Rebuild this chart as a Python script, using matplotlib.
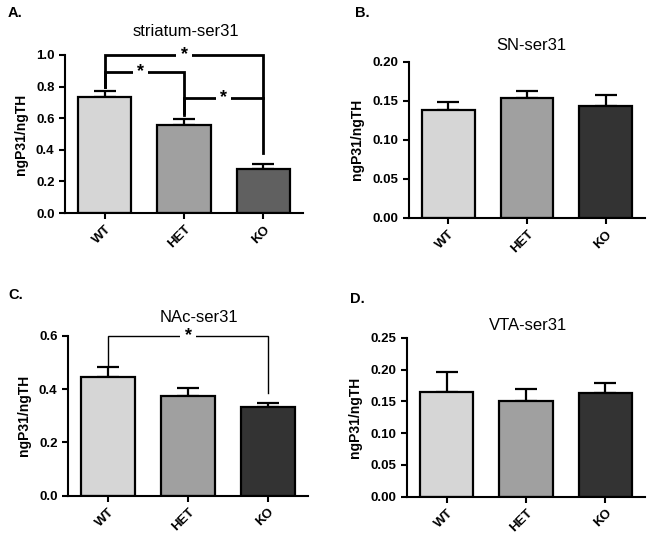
import numpy as np
import matplotlib
matplotlib.use('Agg')
import matplotlib.pyplot as plt
from matplotlib.ticker import FormatStrFormatter

plt.rcParams['font.family'] = ['Liberation Sans', 'DejaVu Sans']

groups = ['WT', 'HET', 'KO']

striatum_mean = [0.734, 0.557, 0.278]
striatum_err = [0.036, 0.040, 0.032]
sn_mean = [0.138, 0.153, 0.143]
sn_err = [0.010, 0.010, 0.014]
nac_mean = [0.445, 0.376, 0.334]
nac_err = [0.037, 0.027, 0.013]
vta_mean = [0.165, 0.150, 0.1635]
vta_err = [0.031, 0.020, 0.0155]

light_colors = ['#d6d6d6', '#a0a0a0', '#606060']
dark_colors = ['#d6d6d6', '#a0a0a0', '#333333']

fig = plt.figure(figsize=(6.54, 5.36), dpi=100)

# axes positions (fig fractions)
axA = fig.add_axes([0.0994, 0.6026, 0.364, 0.2948])
axB = fig.add_axes([0.6254, 0.5933, 0.361, 0.2916])
axC = fig.add_axes([0.104, 0.0752, 0.367, 0.298])
axD = fig.add_axes([0.6223, 0.0733, 0.364, 0.2966])


def bar_panel(ax, means, errs, colors, ymax, yticks, fmt):
    x = np.arange(len(groups))
    ax.bar(x, means, width=0.67, color=colors, edgecolor='black', linewidth=1.6, zorder=2)
    ax.errorbar(x, means, yerr=[np.zeros(len(errs)), errs], fmt='none',
                ecolor='black', elinewidth=1.6, capsize=8, capthick=1.6, zorder=1)
    ax.set_xlim(-0.5, 2.5)
    ax.set_ylim(0, ymax)
    ax.set_yticks(yticks)
    ax.yaxis.set_major_formatter(FormatStrFormatter(fmt))
    ax.set_xticks(x)
    ax.set_xticklabels(groups, rotation=45, ha='right', rotation_mode='anchor',
                       fontweight='bold', fontsize=9.5)
    for lab in ax.get_yticklabels():
        lab.set_fontweight('bold')
        lab.set_fontsize(9.5)
    ax.spines['top'].set_visible(False)
    ax.spines['right'].set_visible(False)
    ax.spines['left'].set_linewidth(1.5)
    ax.spines['bottom'].set_linewidth(1.5)
    ax.tick_params(width=1.5, length=4)
    ax.set_ylabel('ngP31/ngTH', fontweight='bold', fontsize=10, labelpad=6)


def sig(ax, x1, x2, y, y1, y2, xs, lw):
    ax.plot([x1, x1, x2, x2], [y1, y, y, y2], color='black', lw=lw,
            clip_on=False, solid_joinstyle='miter')
    ax.text(xs, y, '*', ha='center', va='center', fontsize=13, fontweight='bold',
            bbox=dict(facecolor='white', edgecolor='none', pad=3), clip_on=False, zorder=5)


bar_panel(axA, striatum_mean, striatum_err, light_colors,
          1.0, [0, 0.2, 0.4, 0.6, 0.8, 1.0], '%.1f')
sig(axA, 0, 2, 1.0, 0.80, 0.378, 1.0, 2.0)
sig(axA, 0, 1, 0.894, 0.80, 0.63, 0.45, 2.0)
sig(axA, 1, 2, 0.73, 0.62, 0.73, 1.5, 2.0)

bar_panel(axB, sn_mean, sn_err, dark_colors,
          0.20, [0, 0.05, 0.10, 0.15, 0.20], '%.2f')

bar_panel(axC, nac_mean, nac_err, dark_colors,
          0.6, [0, 0.2, 0.4, 0.6], '%.1f')
sig(axC, 0, 2, 0.6, 0.49, 0.386, 1.0, 1.0)

bar_panel(axD, vta_mean, vta_err, dark_colors,
          0.25, [0, 0.05, 0.10, 0.15, 0.20, 0.25], '%.2f')

# panel titles (positions in pixels from the reference)
titles = ['striatum-ser31', 'SN-ser31', 'NAc-ser31', 'VTA-ser31']
for t, (px, py) in zip(titles, [(186, 32), (531, 45), (199, 317), (528, 325)]):
    fig.text(px / 654, 1 - py / 536, t, fontsize=12, ha='center', va='center')

# panel letters
for lbl, (px, py) in zip(['A.', 'B.', 'C.', 'D.'],
                         [(8, 13), (355, 13), (8, 295), (350, 299)]):
    fig.text(px / 654, 1 - py / 536, lbl, fontweight='bold', fontsize=10.5,
             ha='left', va='center')

fig.savefig('out.png', dpi=100)
